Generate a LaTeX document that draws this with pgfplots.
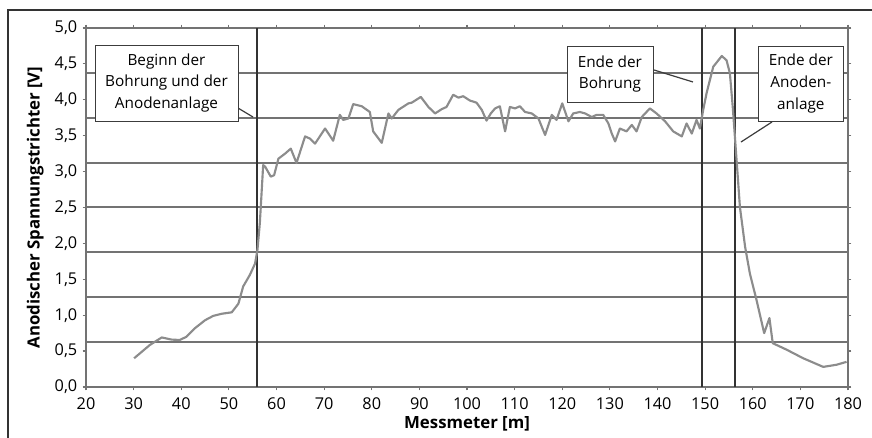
\documentclass[border=0pt]{standalone}
\usepackage{fontspec}
\setmainfont{Open Sans}
\usepackage{pgfplots}
\pgfplotsset{compat=1.18}
\definecolor{gridc}{RGB}{115,115,115}
\definecolor{curvec}{RGB}{140,140,140}
\definecolor{vlinec}{RGB}{50,50,50}
\definecolor{boxc}{RGB}{60,60,60}
\begin{document}
\fontsize{11.5pt}{16.3pt}\selectfont
\begin{tikzpicture}
\useasboundingbox (0pt,0pt) rectangle (654pt,328.5pt);
\clip (0pt,0pt) rectangle (654pt,328.5pt);
\draw[line width=0.9pt, black!80] (6pt,-15pt) -- (6pt,321pt) -- (680pt,321pt);
\begin{axis}[
  at={(64.5pt,38.25pt)}, anchor=south west,
  scale only axis, width=571.5pt, height=269.25pt,
  xmin=20, xmax=180, ymin=0, ymax=5,
  xtick={20,30,...,180},
  ytick={0,0.5,...,5},
  /pgf/number format/assume math mode=true,
  ticklabel style={font=\fontsize{12.2pt}{14pt}\selectfont},
  yticklabel style={/pgf/number format/.cd, fixed, fixed zerofill, precision=1, use comma},
  xticklabel style={yshift=-1.5pt, /pgf/number format/.cd, fixed, precision=0, 1000 sep={}},
  tick align=outside,
  major tick length=2.5pt,
  tick style={gridc, line width=0.9pt},
  axis line style={gridc, line width=1.5pt},
  extra y ticks={0.625,1.25,1.875,2.5,3.125,3.75,4.375},
  extra y tick labels={},
  extra y tick style={grid=major, major tick length=0pt},
  major grid style={gridc, line width=1.5pt},
  xlabel={\fontsize{12.6pt}{14pt}\selectfont\textbf{Messmeter [m]}},
  ylabel={\fontsize{12.6pt}{14pt}\selectfont\textbf{Anodischer Spannungstrichter [V]}},
  xlabel style={yshift=3pt},
  ylabel style={yshift=-2pt},
  clip=false,
]
\addplot[vlinec, line width=1.5pt] coordinates {(56,0) (56,5)};
\addplot[vlinec, line width=1.5pt] coordinates {(149.4,0) (149.4,5)};
\addplot[vlinec, line width=1.5pt] coordinates {(156.2,0) (156.2,5)};
\addplot[curvec, line width=1.6pt, line join=round] table {
30.1 0.40
33.4 0.585
35.9 0.69
38.0 0.66
39.7 0.655
41.1 0.70
42.9 0.82
45.0 0.93
46.7 0.99
48.5 1.02
50.6 1.04
52.0 1.16
53.0 1.40
54.4 1.56
55.5 1.72
56.0 1.91
56.5 2.28
56.9 2.74
57.2 3.09
57.6 3.07
58.8 2.93
59.5 2.95
60.4 3.18
61.8 3.25
63.0 3.32
64.2 3.12
66.0 3.49
67.0 3.46
68.1 3.39
70.2 3.60
71.9 3.43
73.3 3.79
74.0 3.72
75.1 3.74
76.1 3.94
77.9 3.91
79.6 3.83
80.3 3.56
82.1 3.40
83.5 3.81
84.2 3.74
85.6 3.86
87.7 3.95
88.4 3.96
90.3 4.04
91.9 3.90
93.3 3.81
94.7 3.87
95.7 3.90
97.1 4.07
98.2 4.03
99.2 4.05
100.6 3.99
102.0 3.96
103.1 3.86
104.1 3.71
105.0 3.81
105.9 3.88
106.9 3.91
108.0 3.56
109.0 3.90
110.1 3.88
111.1 3.91
112.2 3.83
113.6 3.81
115.0 3.74
116.4 3.51
117.8 3.79
118.8 3.72
120.0 3.95
121.3 3.70
122.3 3.81
123.7 3.83
124.8 3.81
126.2 3.76
127.2 3.79
128.6 3.79
129.7 3.67
130.4 3.53
131.1 3.42
132.1 3.60
133.5 3.56
134.6 3.65
135.6 3.56
136.7 3.76
138.4 3.88
139.8 3.81
141.6 3.70
143.3 3.56
145.1 3.49
146.1 3.67
147.2 3.53
148.2 3.72
148.9 3.60
149.6 3.86
150.3 4.09
151.7 4.46
153.5 4.61
154.5 4.55
155.2 4.37
155.8 3.90
156.3 3.44
156.8 2.98
157.3 2.51
158.4 1.95
159.4 1.58
160.8 1.21
162.4 0.75
163.5 0.96
164.2 0.61
167.1 0.52
170.6 0.40
174.8 0.28
177.6 0.31
179.7 0.35
};
% leader lines
\draw[boxc, line width=0.9pt] (axis cs:51.9,3.886) -- (axis cs:55.07,3.760);
\draw[boxc, line width=0.9pt] (axis cs:139.27,4.415) -- (axis cs:147.45,4.248);
\draw[boxc, line width=0.9pt] (axis cs:164.04,3.691) -- (axis cs:157.53,3.412);
% boxes
\draw[boxc, line width=0.7pt, fill=white] (axis cs:21.89,4.763) rectangle (axis cs:51.92,3.705);
\node[align=center, inner sep=0pt] at (axis cs:36.9,4.234) {Beginn der\\Bohrung und der\\Anodenanlage};
\draw[boxc, line width=0.7pt, fill=white] (axis cs:121.0,4.749) rectangle (axis cs:139.05,3.969);
\node[align=center, inner sep=0pt] at (axis cs:130.0,4.359) {Ende der\\Bohrung};
\draw[boxc, line width=0.7pt, fill=white] (axis cs:161.3,4.749) rectangle (axis cs:178.95,3.705);
\node[align=center, inner sep=0pt] at (axis cs:170.1,4.227) {Ende der\\Anoden-\\anlage};
\end{axis}
\end{tikzpicture}
\end{document}
